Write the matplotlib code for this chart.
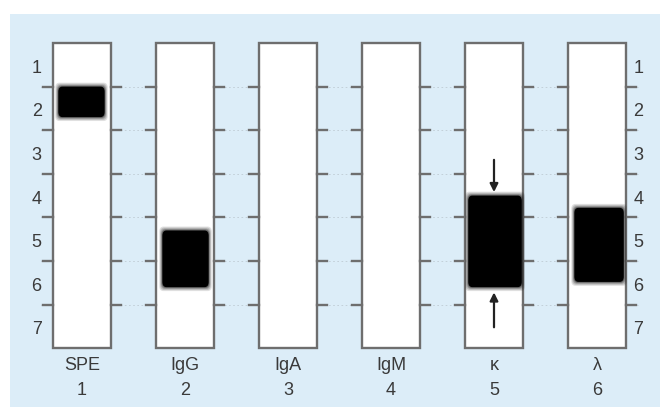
import matplotlib
matplotlib.use("Agg")
import matplotlib.pyplot as plt
from matplotlib.patches import Rectangle, FancyBboxPatch

# Lanes of the immunofixation gel
lane_names = ["SPE", "IgG", "IgA", "IgM", "\u03ba", "\u03bb"]
lane_numbers = ["1", "2", "3", "4", "5", "6"]
zone_labels = ["1", "2", "3", "4", "5", "6", "7"]

# Bands: lane number, zone top, zone bottom, left / right offset from lane centre
band_lane = [1, 2, 5, 6]
band_top = [1.0, 4.3, 3.5, 3.78]
band_bottom = [1.7, 5.6, 5.6, 5.48]
band_left = [-0.23, -0.22, -0.25, -0.22]
band_right = [0.22, 0.23, 0.27, 0.26]

# Arrows marking the kappa band (lane, tail zone, head zone)
arrow_lane = [5, 5]
arrow_tail = [2.68, 6.52]
arrow_head = [3.42, 5.72]

N_ZONES = len(zone_labels)
LANE_HALF = 0.28
TXT = "#3a3a3a"
EDGE = "#6e6e6e"
plt.rcParams["font.family"] = ["Liberation Sans", "DejaVu Sans"]

fig = plt.figure(figsize=(6.6, 4.07), dpi=100)
fig.patch.set_facecolor("white")

ax = fig.add_axes([0, 0, 1, 1])
ax.set_facecolor("none")
ax.set_xlim(1 - 82 / 103, 1 + 578 / 103)
ax.set_ylim((407 - 43) / 43.6, -43 / 43.6)
ax.axis("off")

# light blue backing panel
ax.add_patch(Rectangle((10 / 660, 0), 650 / 660, 1 - 14 / 407,
                       transform=fig.transFigure, facecolor="#dcedf8",
                       edgecolor="none", zorder=0))

n = len(lane_names)
# faint guide lines at the zone boundaries
for k in range(1, N_ZONES):
    ax.plot([1 - LANE_HALF - 0.12, n + LANE_HALF + 0.12], [k, k], color="#bfcbd4",
            lw=0.6, ls=(0, (2, 3)), zorder=1)

for i in range(n):
    c = i + 1
    ax.add_patch(Rectangle((c - LANE_HALF, 0), 2 * LANE_HALF, N_ZONES,
                           facecolor="white", edgecolor=EDGE, lw=1.7, zorder=2))
    for k in range(1, N_ZONES):
        ax.plot([c - LANE_HALF - 0.1, c - LANE_HALF], [k, k], color=EDGE, lw=1.7, zorder=3)
        ax.plot([c + LANE_HALF, c + LANE_HALF + 0.1], [k, k], color=EDGE, lw=1.7, zorder=3)
    ax.text(c, 7.4, lane_names[i], ha="center", va="center", fontsize=13, color=TXT)
    ax.text(c, 7.97, lane_numbers[i], ha="center", va="center", fontsize=13, color=TXT)

for k, lab in enumerate(zone_labels):
    ax.text(1 - 0.44, k + 0.58, lab, ha="center", va="center", fontsize=13, color=TXT)
    ax.text(n + 0.4, k + 0.58, lab, ha="center", va="center", fontsize=13, color=TXT)

# soft-edged dark bands
for ln, t, b, l, r in zip(band_lane, band_top, band_bottom, band_left, band_right):
    layers = [(0.03, 0.12), (0.022, 0.15), (0.014, 0.2), (0.007, 0.3), (0.0, 1.0)]
    for grow, alpha in layers:
        ax.add_patch(FancyBboxPatch((ln + l - grow, t - grow * 3), r - l + 2 * grow,
                                    b - t + grow * 6,
                                    boxstyle="round,pad=0,rounding_size=0.04",
                                    mutation_aspect=3, facecolor="black",
                                    edgecolor="none", alpha=alpha, zorder=4))

for ln, tail, head in zip(arrow_lane, arrow_tail, arrow_head):
    ax.annotate("", xy=(ln, head), xytext=(ln, tail),
                arrowprops=dict(arrowstyle="-|>", color="#222222", lw=1.6,
                                mutation_scale=12, shrinkA=0, shrinkB=0), zorder=5)

fig.savefig("out.png", dpi=100)
